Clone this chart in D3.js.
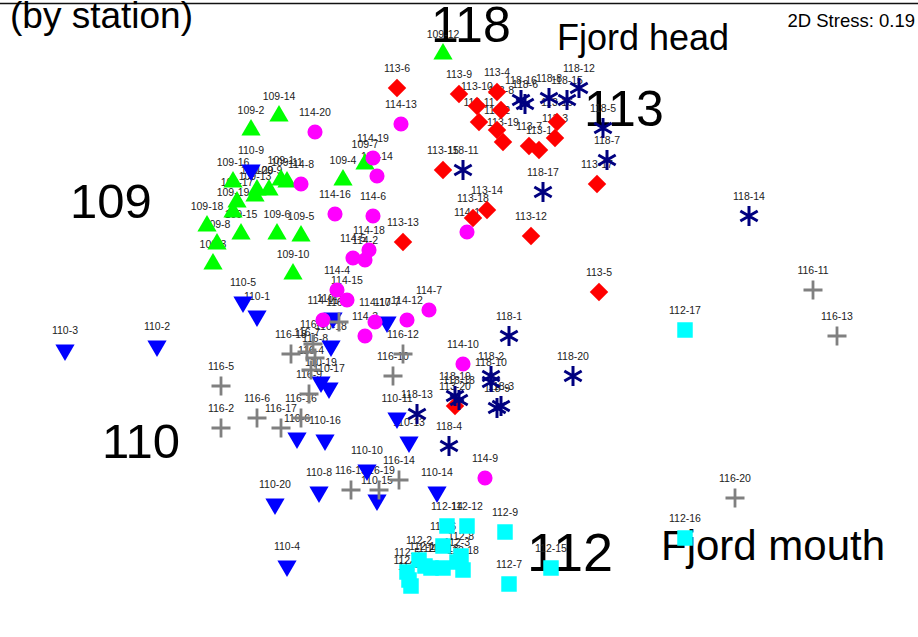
<!DOCTYPE html>
<html>
<head>
<meta charset="utf-8">
<script src="https://cdn.jsdelivr.net/npm/d3@7/dist/d3.min.js"></script>
<style>
  html, body { margin: 0; padding: 0; background: #fff; }
  svg { display: block; font-family: "Liberation Sans", Arial, sans-serif; }
</style>
</head>
<body>
<svg id="chart" width="918" height="637"></svg>
<script>
// nMDS ordination of samples, grouped by station (sample label = station-replicate)
const stations = ["109", "110", "112", "113", "114", "116", "118"];

const st109X = [-0.89, -1.04, -1.23, -0.58, -0.79, -0.91, -0.47, -1.21, -0.95, -0.83, -0.86, -0.08, -1.02, -0.90, -1.09, -1.13, -1.11, -1.26, -1.13, -1.01];
const st109Y = [0.70, 0.95, 0.28, 0.70, 0.42, 0.43, 0.78, 0.38, 0.65, 0.23, 0.69, 1.33, 0.62, 1.02, 0.43, 0.69, 0.59, 0.47, 0.54, 0.65];

const st110X = [-1.01, -1.51, -1.97, -0.86, -1.08, -0.81, -0.36, -0.70, -1.04, -0.46, -0.31, -0.63, -0.25, -0.11, -0.41, -0.67, -0.65, -0.64, -0.69, -0.92];
const st110Y = [0.02, -0.13, -0.15, -1.23, 0.09, -0.59, -0.01, -0.86, 0.75, -0.75, -0.49, 0.01, -0.61, -0.86, -0.90, -0.60, -0.34, -0.13, -0.31, -0.92];

const st112X = [-0.24, -0.20, -0.01, -0.14, -0.26, -0.08, 0.25, 0.01, 0.23, -0.17, -0.25, 0.04, -0.08, -0.06, 0.46, 1.13, 1.13, 0.02];
const st112Y = [-1.33, -1.20, -1.21, -1.24, -1.26, -1.13, -1.32, -1.18, -1.06, -1.23, -1.30, -1.03, -1.24, -1.03, -1.24, -1.09, -0.05, -1.25];

const st113X = [0.40, 0.19, 0.48, 0.19, 0.70, -0.31, 0.35, 0.21, 0.00, 0.09, 0.10, 0.36, -0.28, 0.14, -0.08, 0.49, 0.69, 0.07, 0.22, -0.02];
const st113Y = [0.85, 0.95, 0.91, 1.14, 0.14, 1.16, 0.87, 1.05, 1.13, 1.07, 0.99, 0.42, 0.39, 0.55, 0.75, 0.99, 0.68, 0.51, 0.89, -0.43];

const st114X = [0.04, -0.47, -0.47, -0.61, -0.53, -0.43, -0.15, -0.79, 0.13, 0.02, -0.68, -0.26, -0.29, -0.41, -0.56, -0.62, -0.42, -0.45, -0.43, -0.72];
const st114Y = [0.44, 0.30, -0.08, 0.15, 0.31, 0.52, 0.05, 0.68, -0.79, -0.22, 0.00, 0.00, 0.98, 0.72, 0.10, 0.53, -0.01, 0.35, 0.81, 0.94];

const st116X = [-0.60, -1.19, -0.73, -0.74, -1.19, -1.01, -0.76, -0.72, -0.75, -0.33, 1.77, -0.28, 1.89, -0.30, -0.54, -0.79, -0.89, -0.84, -0.40, 1.38];
const st116Y = [-0.01, -0.54, -0.12, -0.25, -0.33, -0.49, -0.16, -0.19, -0.37, -0.28, 0.15, -0.17, -0.08, -0.80, -0.85, -0.49, -0.54, -0.17, -0.85, -0.89];

const st118X = [0.25, 0.16, 0.21, -0.05, 0.72, 0.33, 0.74, 0.45, 0.19, 0.16, 0.02, 0.60, -0.21, 1.45, 0.54, 0.31, 0.42, 0.00, -0.02, 0.57];
const st118Y = [-0.08, -0.28, -0.43, -0.63, 0.96, 1.08, 0.80, 1.11, -0.44, -0.31, 0.75, 1.16, -0.47, 0.52, 1.10, 1.10, 0.64, -0.40, -0.38, -0.28];

// Station names written beside their sample clouds, and the gradient ends
const zoneText = ["118", "113", "109", "110", "112", "Fjord head", "Fjord mouth"];
const zoneX = [-0.14, 0.625, -1.945, -1.785, 0.34, 0.49, 1.01];
const zoneY = [1.39, 0.97, 0.51, -0.69, -1.255, 1.35, -1.20];
const zoneSize = [50, 50, 49, 49, 54, 36, 42];

const titleText = "(by station)";
const stressText = "2D Stress: 0.19";

const coordsX = { "109": st109X, "110": st110X, "112": st112X, "113": st113X, "114": st114X, "116": st116X, "118": st118X };
const coordsY = { "109": st109Y, "110": st110Y, "112": st112Y, "113": st113Y, "114": st114Y, "116": st116Y, "118": st118Y };

const samples = [];
stations.forEach(st => {
  coordsX[st].forEach((vx, i) => {
    samples.push({ station: st, label: st + "-" + (i + 1), x: vx, y: coordsY[st][i] });
  });
});

const svg = d3.select("#chart");
const W = 918, H = 637;

const x = d3.scaleLinear().domain([-2, 2]).range([59, 859]);
const y = d3.scaleLinear().domain([-1.5, 1.5]).range([620, 20]);

// Marker style per station
const symbolStyle = {
  "109": { kind: "triUp",   color: "#00ff00" },
  "110": { kind: "triDown", color: "#0000ff" },
  "112": { kind: "square",  color: "#00ffff" },
  "113": { kind: "diamond", color: "#ff0000" },
  "114": { kind: "circle",  color: "#ff00ff" },
  "116": { kind: "plus",    color: "#808080" },
  "118": { kind: "star",    color: "#000080" }
};

const triPath = d3.symbol().type(d3.symbolTriangle).size(160)();
const squarePath = d3.symbol().type(d3.symbolSquare).size(240)();
const diamondPath = d3.symbol().type(d3.symbolSquare).size(170)();
const circlePath = d3.symbol().type(d3.symbolCircle).size(180)();

function plusPath(r) {
  return `M${-r},0L${r},0M0,${-r}L0,${r}`;
}
function starPath(r) {
  const a = Math.PI / 6;
  const dx = r * Math.cos(a), dy = r * Math.sin(a);
  return `M0,${-r}L0,${r}M${-dx},${-dy}L${dx},${dy}M${-dx},${dy}L${dx},${-dy}`;
}

// Frame top edge
svg.append("line")
  .attr("x1", 0).attr("x2", W)
  .attr("y1", 3.5).attr("y2", 3.5)
  .attr("stroke", "#111").attr("stroke-width", 1.6);

// Title and stress value
svg.append("text")
  .attr("x", 10).attr("y", 28)
  .attr("font-size", 37).attr("fill", "#000")
  .text(titleText);

svg.append("text")
  .attr("x", 915).attr("y", 27)
  .attr("text-anchor", "end")
  .attr("font-size", 18.5).attr("fill", "#000")
  .text(stressText);

// Zone labels sit underneath the samples
svg.append("g").selectAll("text")
  .data(zoneText)
  .join("text")
  .attr("x", (d, i) => x(zoneX[i]))
  .attr("y", (d, i) => y(zoneY[i]))
  .attr("font-size", (d, i) => zoneSize[i])
  .attr("fill", "#000")
  .text(d => d);

// Sample labels above each marker
svg.append("g").selectAll("text")
  .data(samples)
  .join("text")
  .attr("x", d => x(d.x))
  .attr("y", d => y(d.y) - 16)
  .attr("text-anchor", "middle")
  .attr("font-size", 10.5)
  .attr("fill", "#222")
  .text(d => d.label);

// Markers
const marks = svg.append("g");
samples.forEach(d => {
  const s = symbolStyle[d.station];
  const cx = x(d.x), cy = y(d.y);
  const g = marks.append("g").attr("transform", `translate(${cx},${cy})`);
  if (s.kind === "triUp") {
    g.append("path").attr("d", triPath).attr("fill", s.color);
  } else if (s.kind === "triDown") {
    g.append("path").attr("d", triPath).attr("transform", "rotate(180)").attr("fill", s.color);
  } else if (s.kind === "square") {
    g.append("path").attr("d", squarePath).attr("fill", s.color);
  } else if (s.kind === "diamond") {
    g.append("path").attr("d", diamondPath).attr("transform", "rotate(45)").attr("fill", s.color);
  } else if (s.kind === "circle") {
    g.append("path").attr("d", circlePath).attr("fill", s.color);
  } else if (s.kind === "plus") {
    g.append("path").attr("d", plusPath(9.5)).attr("stroke", s.color).attr("stroke-width", 2.8).attr("fill", "none");
  } else if (s.kind === "star") {
    g.append("path").attr("d", starPath(10)).attr("stroke", s.color).attr("stroke-width", 3).attr("fill", "none");
  }
});
</script>
</body>
</html>
